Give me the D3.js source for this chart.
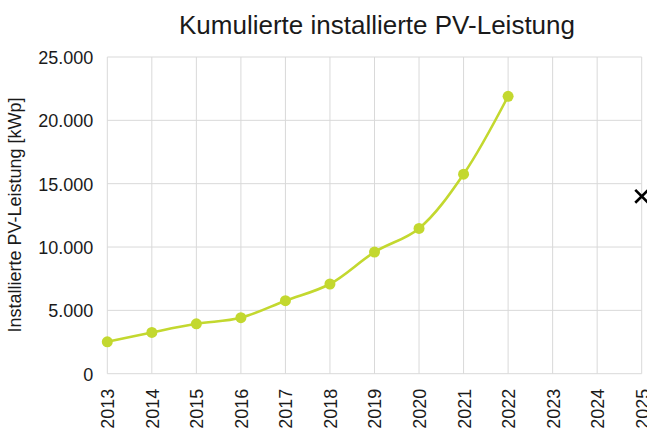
<!DOCTYPE html>
<html>
<head>
<meta charset="utf-8">
<script src="https://cdn.jsdelivr.net/npm/d3@7"></script>
<style>
  body { margin: 0; background: #fff; }
  svg { display: block; }
</style>
</head>
<body>
<div class="chart"></div>
<script>
// data
const years = ["2013", "2014", "2015", "2016", "2017", "2018", "2019", "2020", "2021", "2022", "2023", "2024", "2025"];
const pvYears = ["2013", "2014", "2015", "2016", "2017", "2018", "2019", "2020", "2021", "2022"];
const pvValues = [2520, 3260, 3940, 4420, 5760, 7080, 9600, 11470, 15750, 21900];
const targetYear = "2025";
const targetValue = 14000;
const yTicks = [0, 5000, 10000, 15000, 20000, 25000];

const width = 647;
const height = 432;
const margin = { top: 57, right: 5.3, bottom: 58.3, left: 107.3 };

const de = d3.formatLocale({ decimal: ",", thousands: ".", grouping: [3], currency: ["", " €"] });
const fmt = de.format(",.0f");

const svg = d3.select('.chart')
  .append('svg')
  .attr('width', width)
  .attr('height', height)
  .attr('font-family', 'Liberation Sans, Arial, sans-serif');

const x = d3.scalePoint()
  .domain(years)
  .range([margin.left, width - margin.right]);

const y = d3.scaleLinear()
  .domain([0, 25000])
  .range([height - margin.bottom, margin.top]);

// gridlines
svg.append("g")
  .attr("stroke", "#d9d9d9")
  .attr("stroke-width", 1)
  .selectAll("line.h")
  .data(yTicks)
  .join("line")
  .attr("x1", margin.left)
  .attr("x2", width - margin.right)
  .attr("y1", d => y(d))
  .attr("y2", d => y(d));

svg.append("g")
  .attr("stroke", "#d9d9d9")
  .attr("stroke-width", 1)
  .selectAll("line.v")
  .data(years)
  .join("line")
  .attr("x1", d => x(d))
  .attr("x2", d => x(d))
  .attr("y1", y(0))
  .attr("y2", y(25000));

// y axis
const yAxis = g => {
  g.attr("transform", `translate(${margin.left - 14}, 0)`)
  .call(d3.axisLeft(y).tickValues(yTicks).tickFormat(fmt).tickSize(0).tickPadding(0))
  .attr("font-size", '18px')
  .attr("font-family", null)
  .call(g => g.select(".domain").remove())
  .call(g => g.selectAll("text").attr("fill", "#1a1a1a").attr("dy", "0.36em"));
}

// x axis
const xAxis = g => {
  g.attr("transform", `translate(0,${y(0)})`)
  .call(d3.axisBottom(x).tickSize(0).tickPadding(0))
  .attr("font-size", '18px')
  .attr("font-family", null)
  .call(g => g.select(".domain").remove())
  .call(g => g.selectAll("text")
    .attr("fill", "#1a1a1a")
    .attr("transform", "rotate(-90)")
    .attr("text-anchor", "end")
    .attr("x", -15)
    .attr("y", 0)
    .attr("dy", "0.36em"));
}

svg.append("g").call(xAxis);
svg.append("g").call(yAxis);

// line
const line = d3.line()
  .x((d, i) => x(pvYears[i]))
  .y(d => y(d))
  .curve(d3.curveCatmullRom.alpha(0.5));

svg.append("path")
  .datum(pvValues)
  .attr("fill", "none")
  .attr("stroke", "#c3d82f")
  .attr("stroke-width", 2.6)
  .attr("d", line);

svg.append("g")
  .attr("fill", "#c3d82f")
  .selectAll("circle")
  .data(pvValues)
  .join("circle")
  .attr("cx", (d, i) => x(pvYears[i]))
  .attr("cy", d => y(d))
  .attr("r", 5.5);

// target marker
svg.append("path")
  .attr("transform", `translate(${x(targetYear)},${y(targetValue)})`)
  .attr("d", d3.symbol(d3.symbolX, 110)())
  .attr("fill", "none")
  .attr("stroke", "#000")
  .attr("stroke-width", 2.6);

// title
svg.append("text")
  .attr("x", 377)
  .attr("y", 34)
  .attr("text-anchor", "middle")
  .attr("font-size", "26px")
  .attr("fill", "#1a1a1a")
  .text("Kumulierte installierte PV-Leistung");

// y label
svg.append("text")
  .attr("transform", `translate(21,215) rotate(-90)`)
  .attr("text-anchor", "middle")
  .attr("font-size", "18px")
  .attr("fill", "#1a1a1a")
  .text("Installierte PV-Leistung [kWp]");
</script>
</body>
</html>
